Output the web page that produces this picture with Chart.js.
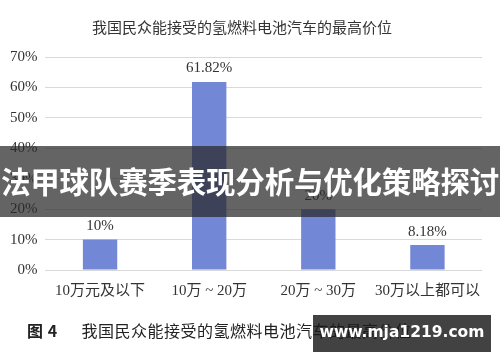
<!DOCTYPE html>
<html>
<head>
<meta charset="utf-8">
<script src="https://cdn.jsdelivr.net/npm/chart.js@4/dist/chart.umd.min.js"></script>
<style>
html,body{margin:0;padding:0;background:#fff;}
#wrap{position:relative;width:500px;height:362px;overflow:hidden;background:#fff;}
#c{position:absolute;left:0;top:0;}
#caption{position:absolute;left:27px;top:318px;font-family:"Noto Sans CJK SC",sans-serif;font-size:16px;color:#222;white-space:nowrap;letter-spacing:0.5px;}
#caption b{font-weight:700;margin-right:24px;}
#banner{position:absolute;left:0;top:146px;width:500px;height:71px;background:rgba(40,40,40,0.72);}
#bannerText{position:absolute;left:0;top:160px;width:500px;text-align:center;font-family:"Noto Sans CJK SC",sans-serif;font-weight:700;font-size:29.5px;color:#fff;white-space:nowrap;line-height:40px;letter-spacing:-0.2px;}
#wm{position:absolute;left:313px;top:315px;width:178px;height:37px;background:rgba(25,25,25,0.82);}
#wmText{position:absolute;left:313px;top:315px;width:178px;height:34px;line-height:34px;text-align:center;font-family:"DejaVu Sans",sans-serif;font-weight:700;font-size:15.5px;color:#fff;white-space:nowrap;}
</style>
</head>
<body>
<div id="wrap">
<canvas id="c" width="500" height="362"></canvas>
<div id="caption"><b>图 4</b>我国民众能接受的氢燃料电池汽车的最高价位</div>
<div id="banner"></div>
<div id="bannerText">法甲球队赛季表现分析与优化策略探讨</div>
<div id="wm"></div>
<div id="wmText">www.mja1219.com</div>
</div>
<script>
const chartTitle = "我国民众能接受的氢燃料电池汽车的最高价位";
const categories = ["10万元及以下", "10万 ~ 20万", "20万 ~ 30万", "30万以上都可以"];
const shares = [10, 61.82, 20, 8.18];
const valueLabels = ["10%", "61.82%", "20%", "8.18%"];
const yTicks = [0, 10, 20, 30, 40, 50, 60, 70];

const serif = '"Liberation Serif", "Noto Sans CJK SC", serif';

const labelPlugin = {
  id: 'valueLabels',
  afterDatasetsDraw(chart) {
    const ctx = chart.ctx;
    const meta = chart.getDatasetMeta(0);
    ctx.save();
    ctx.font = '15px ' + serif;
    ctx.fillStyle = '#333';
    ctx.textAlign = 'center';
    ctx.textBaseline = 'bottom';
    meta.data.forEach((bar, i) => {
      ctx.fillText(valueLabels[i], bar.x, bar.y - 6);
    });
    ctx.restore();
  }
};

new Chart(document.getElementById('c'), {
  type: 'bar',
  data: {
    labels: categories,
    datasets: [{
      data: shares,
      backgroundColor: '#7287d6',
      barPercentage: 0.63,
      categoryPercentage: 0.5
    }]
  },
  options: {
    responsive: false,
    animation: false,
    devicePixelRatio: 1,
    layout: { padding: { left: 2, right: 18, top: 0, bottom: 58 } },
    plugins: {
      legend: { display: false },
      tooltip: { enabled: false },
      title: {
        display: true,
        text: chartTitle,
        color: '#333',
        font: { family: serif, size: 15, weight: 'normal' },
        padding: { top: 20, bottom: 19 }
      }
    },
    scales: {
      x: {
        grid: { display: false },
        border: { display: false },
        ticks: { color: '#333', font: { family: serif, size: 15 }, padding: 4, maxRotation: 0, autoSkip: false }
      },
      y: {
        min: 0, max: 70,
        afterBuildTicks(scale) { scale.ticks = yTicks.map(v => ({ value: v })); },
        grid: { color: '#d9d9d9', drawTicks: false },
        border: { display: false },
        ticks: { color: '#333', font: { family: serif, size: 15 }, padding: 8, callback: v => v + '%' }
      }
    }
  },
  plugins: [labelPlugin]
});
</script>
</body>
</html>
